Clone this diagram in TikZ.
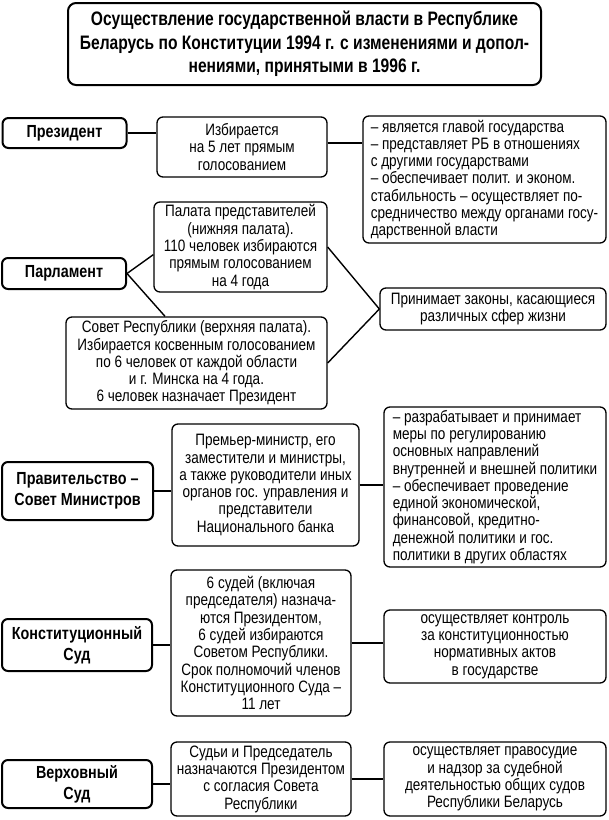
\documentclass[tikz,border=0pt]{standalone}
\usepackage{fontspec}
\setmainfont{Liberation Sans}[FakeStretch=0.82]
\newfontfamily\ttlfont{Liberation Sans}[FakeStretch=0.80]
\usetikzlibrary{calc}
\tikzset{
  box/.style={draw, rounded corners=6pt, line width=1.3pt, inner sep=0pt, align=center,
    font=\fontsize{16.5}{17.3}\selectfont},
  lbox/.style={box, align=left},
  lbl/.style={box, line width=2pt, font=\fontsize{17.5}{21}\selectfont\bfseries},
  ttl/.style={box, line width=2pt, rounded corners=8pt, font=\ttlfont\fontsize{19.5}{23.5}\selectfont\bfseries},
  sz/.style 2 args={minimum width=#1pt, minimum height=#2pt},
  wire/.style={line width=1.4pt},
}
\begin{document}
\begin{tikzpicture}[x=1pt,y=-1pt]
\useasboundingbox (0,0) rectangle (609,820);
\node[ttl, sz={473}{82}] (title) at (304.5,44) {Осуществление государственной власти в Республике\\Беларусь по Конституции 1994 г. с изменениями и допол-\\нениями, принятыми в 1996 г.};

\node[lbl, sz={124}{30}] (pres) at (64.5,133) {Президент};
\node[box, sz={170}{60}] (izb) at (242,147) {Избирается\\на 5 лет прямым\\голосованием};
\node[lbox, sz={243}{127}] (pinfo) at (484.5,179.5) {– является главой государства\\– представляет РБ в отношениях\\с другими государствами\\– обеспечивает полит. и эконом.\\стабильность – осуществляет по-\\средничество между органами госу-\\дарственной власти};

\node[lbl, sz={124}{31}] (parl) at (64,273.5) {Парламент};
\node[box, sz={173}{90}] (palata) at (240.5,247) {Палата представителей\\(нижняя палата).\\110 человек избираются\\прямым голосованием\\на 4 года};
\node[box, sz={261}{92}] (sovet) at (196.5,363) {Совет Республики (верхняя палата).\\Избирается косвенным голосованием\\по 6 человек от каждой области\\и г. Минска на 4 года.\\6 человек назначает Президент};
\node[box, sz={226}{42}] (prin) at (493,309) {Принимает законы, касающиеся\\различных сфер жизни};

\node[lbl, sz={151}{58}] (prav) at (77.5,491) {Правительство –\\Совет Министров};
\node[box, sz={187}{122}] (prem) at (265.5,485) {Премьер-министр, его\\заместители и министры,\\а также руководители иных\\органов гос. управления и\\представители\\Национального банка};
\node[lbox, sz={222}{160}] (razrab) at (495,487) {– разрабатывает и принимает\\меры по регулированию\\основных направлений\\внутренней и внешней политики\\– обеспечивает проведение\\единой экономической,\\финансовой, кредитно-\\денежной политики и гос.\\политики в других областях};

\node[lbl, sz={150}{52}] (konst) at (77,645) {Конституционный\\Суд};
\node[box, sz={180}{146}] (sud6) at (261,643) {6 судей (включая\\председателя) назнача-\\ются Президентом,\\6 судей избираются\\Советом Республики.\\Срок полномочий членов\\Конституционного Суда –\\11 лет};
\node[box, sz={222}{73}] (kontrol) at (495,646.5) {осуществляет контроль\\за конституционностью\\нормативных актов\\в государстве};

\node[lbl, sz={150}{48}] (verkh) at (77,784) {Верховный\\Суд};
\node[box, sz={180}{74}] (sudi) at (261,779) {Судьи и Председатель\\назначаются Президентом\\с согласия Совета\\Республики};
\node[box, sz={222}{74}] (pravos) at (495,779) {осуществляет правосудие\\и надзор за судебной\\деятельностью общих судов\\Республики Беларусь};

\coordinate (izbout) at ($(izb.east)+(0,-4)$);
\draw[wire] (pres.east) -- (pres.east -| izb.west);
\draw[wire] (izbout) -- (izbout -| pinfo.west);
\draw[wire] (parl.east) -- (palata.185);
\draw[wire] (parl.east) -- ($(sovet.north west)!0.38!(sovet.north east)$);
\draw[wire] (palata.east) -- (prin.west);
\draw[wire] (sovet.east) -- (prin.west);
\draw[wire] (prav.east) -- (prav.east -| prem.west);
\draw[wire] (prem.east) -- (prem.east -| razrab.west);
\draw[wire] (konst.east) -- (konst.east -| sud6.west);
\draw[wire] (sud6.east) -- (sud6.east -| kontrol.west);
\draw[wire] (verkh.east) -- (verkh.east -| sudi.west);
\draw[wire] (sudi.east) -- (sudi.east -| pravos.west);
\end{tikzpicture}
\end{document}
